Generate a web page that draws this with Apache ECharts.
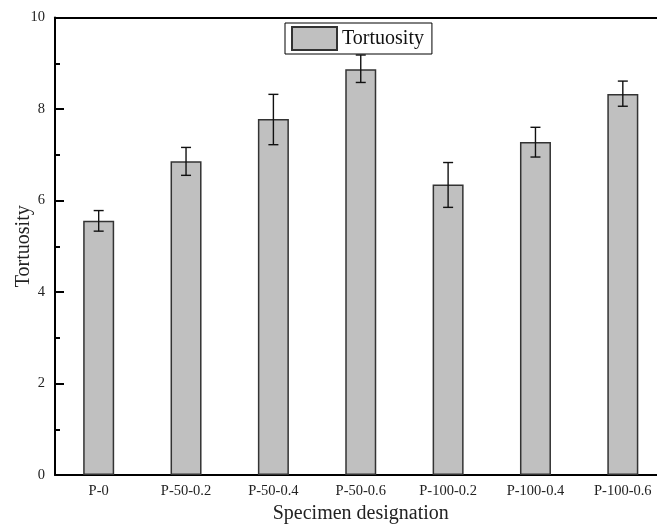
<!DOCTYPE html>
<html>
<head>
<meta charset="utf-8">
<script src="https://cdn.jsdelivr.net/npm/echarts@6/dist/echarts.min.js"></script>
<style>
  html, body { margin: 0; padding: 0; background: #fff; }
  #chart { width: 657px; height: 527px; }
</style>
</head>
<body>
<div id="chart"></div>
<script>
// specimen names and measured tortuosity (mean with error bar ends)
const specimens = ['P-0', 'P-50-0.2', 'P-50-0.4', 'P-50-0.6', 'P-100-0.2', 'P-100-0.4', 'P-100-0.6'];
const tortuosity = [5.56, 6.86, 7.78, 8.87, 6.35, 7.28, 8.33];
const errLow = [5.33, 6.55, 7.22, 8.58, 5.85, 6.95, 8.06];
const errHigh = [5.78, 7.16, 8.32, 9.18, 6.83, 7.60, 8.61];

const serif = 'Liberation Serif';
const chart = echarts.init(document.getElementById('chart'));

chart.setOption({
    animation: false,
    textStyle: { fontFamily: serif },
    grid: { left: 55, right: -9.5, top: 17.5, bottom: 52, containLabel: false, outerBoundsMode: 'none' },
    legend: {
        data: [{ name: 'Tortuosity', icon: 'rect' }],
        left: 285,
        top: 23,
        itemWidth: 45,
        itemHeight: 23,
        padding: [3, 8, 3, 6],
        borderColor: '#000',
        borderWidth: 1,
        borderRadius: 0,
        textStyle: { fontFamily: serif, fontSize: 20, color: '#111' }
    },
    xAxis: [
        {
            type: 'category',
            data: specimens,
            position: 'bottom',
            axisLine: { lineStyle: { color: '#000', width: 2 } },
            axisTick: { alignWithLabel: true, inside: true, length: 9, lineStyle: { color: '#000', width: 2 } },
            axisLabel: { fontFamily: serif, fontSize: 14.5, color: '#222', margin: 9 },
            name: 'Specimen designation',
            nameLocation: 'middle',
            nameGap: 27,
            nameTextStyle: { fontFamily: serif, fontSize: 20, color: '#222' }
        },
        {
            type: 'category',
            data: specimens,
            position: 'bottom',
            axisLine: { show: false },
            axisTick: { inside: true, length: 5, lineStyle: { color: '#000', width: 2 } },
            axisLabel: { show: false }
        },
        {
            type: 'category',
            data: specimens,
            position: 'top',
            axisLine: { lineStyle: { color: '#000', width: 2 } },
            axisTick: { show: false },
            axisLabel: { show: false }
        }
    ],
    yAxis: {
        type: 'value',
        min: 0,
        max: 10,
        interval: 2,
        axisLine: { show: true, lineStyle: { color: '#000', width: 2 } },
        axisTick: { show: true, inside: true, length: 9, lineStyle: { color: '#000', width: 2 } },
        minorTick: { show: true, splitNumber: 2, length: 5, lineStyle: { color: '#000', width: 2 } },
        splitLine: { show: false },
        axisLabel: { fontFamily: serif, fontSize: 14.5, color: '#222', margin: 10 },
        name: 'Tortuosity',
        nameLocation: 'middle',
        nameGap: 21,
        nameMoveOverlap: false,
        nameTextStyle: { fontFamily: serif, fontSize: 20, color: '#222' }
    },
    series: [
        {
            name: 'Tortuosity',
            type: 'bar',
            data: tortuosity,
            barWidth: 31,
            itemStyle: { color: '#c0c0c0', borderColor: '#333', borderWidth: 1.5 }
        },
        {
            name: 'error',
            type: 'custom',
            data: specimens.map((s, i) => [i, errLow[i], errHigh[i]]),
            z: 5,
            renderItem: function (params, api) {
                const lo = api.coord([api.value(0), api.value(1)]);
                const hi = api.coord([api.value(0), api.value(2)]);
                const cap = 5;
                const style = { stroke: '#111', lineWidth: 1.4 };
                return {
                    type: 'group',
                    children: [
                        { type: 'line', shape: { x1: lo[0], y1: lo[1], x2: hi[0], y2: hi[1] }, style: style },
                        { type: 'line', shape: { x1: lo[0] - cap, y1: lo[1], x2: lo[0] + cap, y2: lo[1] }, style: style },
                        { type: 'line', shape: { x1: hi[0] - cap, y1: hi[1], x2: hi[0] + cap, y2: hi[1] }, style: style }
                    ]
                };
            }
        }
    ]
});
</script>
</body>
</html>
